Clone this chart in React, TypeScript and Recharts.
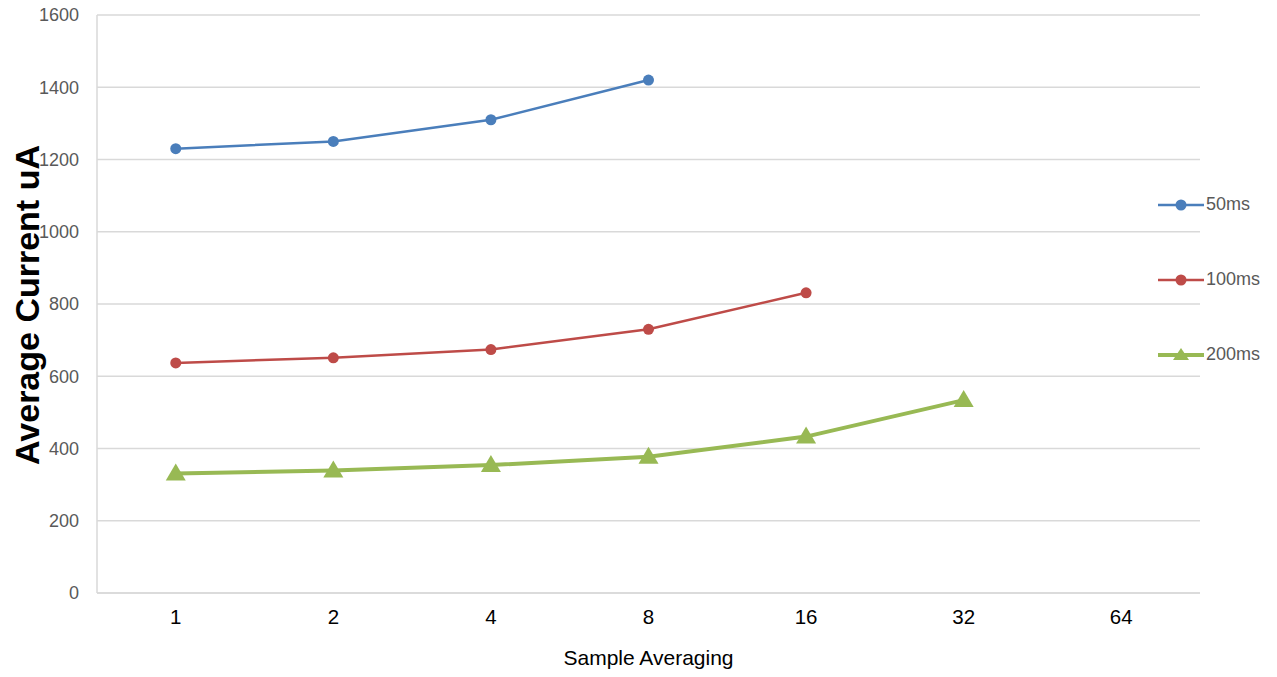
import React from "react";
import { LineChart, Line, XAxis, YAxis, CartesianGrid } from "recharts";

const categories = ["1", "2", "4", "8", "16", "32", "64"];
const series50ms = [1230, 1250, 1310, 1420, null, null, null];
const series100ms = [637, 651, 674, 730, 831, null, null];
const series200ms = [331, 339, 354, 377, 433, 534, null];
const yTicks = [0, 200, 400, 600, 800, 1000, 1200, 1400, 1600];

const BLUE = "#4a7ebb";
const RED = "#be4b48";
const GREEN = "#98b954";
const GRID = "#d9d9d9";
const FONT = "'Liberation Sans', Arial, sans-serif";

const data = categories.map((c, i) => ({
  cat: c,
  s50: series50ms[i],
  s100: series100ms[i],
  s200: series200ms[i],
}));

const Triangle = ({ cx, cy, fill }: any) => {
  if (cx == null || cy == null) return null;
  return (
    <path
      d={`M${cx},${cy - 10} L${cx + 10},${cy + 7} L${cx - 10},${cy + 7} Z`}
      fill={fill}
    />
  );
};

const legendItems = [
  { name: "50ms", color: BLUE, shape: "circle", width: 2.5 },
  { name: "100ms", color: RED, shape: "circle", width: 2.5 },
  { name: "200ms", color: GREEN, shape: "triangle", width: 4 },
];

// Legend stacked on the right, spaced like the original
const SideLegend = () => (
  <div style={{ position: "absolute", left: 1158, top: 167, fontFamily: FONT }}>
    {legendItems.map((it) => (
      <div
        key={it.name}
        style={{ display: "flex", alignItems: "center", height: 75 }}
      >
        <svg width={46} height={20}>
          <line x1={0} y1={10} x2={46} y2={10} stroke={it.color} strokeWidth={it.width} />
          {it.shape === "circle" ? (
            <circle cx={23} cy={10} r={5.5} fill={it.color} />
          ) : (
            <path d="M23,3 L31,15 L15,15 Z" fill={it.color} />
          )}
        </svg>
        <span style={{ fontSize: 18, color: "#595959", marginLeft: 2 }}>{it.name}</span>
      </div>
    ))}
  </div>
);

export default function App() {
  return (
    <div style={{ position: "fixed", left: 0, top: 0, width: 1277, height: 677, background: "#fff" }}>
      <LineChart
        width={1277}
        height={677}
        data={data}
        margin={{ top: 15, right: 77, left: 0, bottom: 0 }}
      >
        <CartesianGrid vertical={false} stroke={GRID} strokeWidth={1.5} />
        <XAxis
          dataKey="cat"
          height={84}
          padding={{ left: 78.75, right: 78.75 }}
          tickLine={false}
          axisLine={{ stroke: GRID, strokeWidth: 1.5 }}
          tickMargin={10}
          tick={{ fill: "#000", fontSize: 20.5, fontFamily: FONT }}
          label={{
            value: "Sample Averaging",
            position: "insideBottom",
            offset: 12,
            fill: "#000",
            fontSize: 21,
            fontFamily: FONT,
          }}
        />
        <YAxis
          width={97}
          domain={[0, 1600]}
          ticks={yTicks}
          interval={0}
          tickLine={false}
          axisLine={{ stroke: GRID, strokeWidth: 1.5 }}
          tickMargin={12}
          tick={{ fill: "#595959", fontSize: 18, fontFamily: FONT }}
          label={() => (
            <text
              x={27}
              y={305}
              transform="rotate(-90, 27, 305)"
              textAnchor="middle"
              dominantBaseline="central"
              fontSize={34}
              fontWeight="bold"
              fontFamily={FONT}
              fill="#000"
            >
              Average Current uA
            </text>
          )}
        />
        <Line
          dataKey="s50"
          name="50ms"
          stroke={BLUE}
          strokeWidth={2.5}
          dot={{ r: 5.5, fill: BLUE, stroke: BLUE, strokeWidth: 0 }}
          isAnimationActive={false}
        />
        <Line
          dataKey="s100"
          name="100ms"
          stroke={RED}
          strokeWidth={2.5}
          dot={{ r: 5.5, fill: RED, stroke: RED, strokeWidth: 0 }}
          isAnimationActive={false}
        />
        <Line
          dataKey="s200"
          name="200ms"
          stroke={GREEN}
          strokeWidth={4}
          dot={<Triangle fill={GREEN} />}
          isAnimationActive={false}
        />
      </LineChart>
      <SideLegend />
    </div>
  );
}
